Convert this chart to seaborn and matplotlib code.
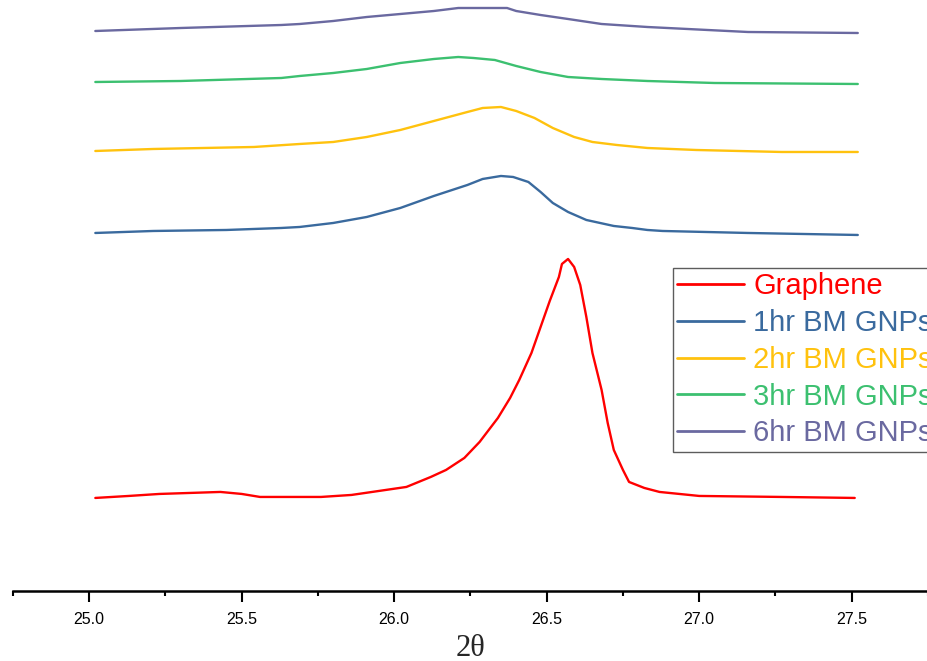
import pandas as pd
import matplotlib.pyplot as plt
import seaborn as sns
from matplotlib.ticker import MultipleLocator

# XRD (002) peak, intensities in arbitrary units
graphene_x = [25.02, 25.13, 25.23, 25.33, 25.43, 25.50, 25.56, 25.76, 25.86, 25.95,
              26.04, 26.12, 26.17, 26.23, 26.28, 26.34, 26.38, 26.41, 26.45, 26.48,
              26.51, 26.54, 26.55, 26.57, 26.59, 26.61, 26.63, 26.65, 26.68, 26.70,
              26.72, 26.75, 26.77, 26.82, 26.87, 27.00, 27.27, 27.51]
graphene_y = [93, 95, 97, 98, 99, 97, 94, 94, 96, 100,
              104, 114, 121, 133, 149, 173, 193, 211, 238, 264,
              290, 314, 327, 332, 324, 306, 274, 238, 201, 168,
              141, 121, 109, 103, 99, 95, 94, 93]

bm1_x = [25.02, 25.21, 25.45, 25.63, 25.69, 25.80, 25.91, 26.02, 26.13, 26.24,
         26.29, 26.35, 26.39, 26.44, 26.48, 26.52, 26.57, 26.63, 26.72, 26.78,
         26.83, 26.88, 27.16, 27.52]
bm1_y = [358, 360, 361, 363, 364, 368, 374, 383, 395, 406,
         412, 415, 414, 409, 399, 388, 379, 371, 365, 363,
         361, 360, 358, 356]

bm2_x = [25.02, 25.21, 25.54, 25.69, 25.80, 25.91, 26.02, 26.13, 26.24, 26.29,
         26.35, 26.40, 26.46, 26.52, 26.59, 26.65, 26.73, 26.83, 26.99, 27.27,
         27.52]
bm2_y = [440, 442, 444, 447, 449, 454, 461, 470, 479, 483,
         484, 480, 473, 463, 454, 449, 446, 443, 441, 439,
         439]

bm3_x = [25.02, 25.30, 25.63, 25.69, 25.80, 25.91, 26.02, 26.13, 26.21, 26.26,
         26.33, 26.40, 26.48, 26.57, 26.68, 26.83, 27.05, 27.52]
bm3_y = [509, 510, 513, 515, 518, 522, 528, 532, 534, 533,
         531, 525, 519, 514, 512, 510, 508, 507]

bm6_x = [25.02, 25.30, 25.63, 25.69, 25.80, 25.91, 26.02, 26.13, 26.21, 26.37,
         26.40, 26.48, 26.57, 26.68, 26.83, 27.16, 27.52]
bm6_y = [560, 563, 566, 567, 570, 574, 577, 580, 583, 583,
         580, 576, 572, 567, 564, 559, 558]

labels = ["Graphene", "1hr BM GNPs", "2hr BM GNPs", "3hr BM GNPs", "6hr BM GNPs"]
colors = ["#FF0000", "#3A6A9E", "#FFC20E", "#3CC070", "#6A69A0"]

frames = []
for name, xs, ys in zip(labels,
                        [graphene_x, bm1_x, bm2_x, bm3_x, bm6_x],
                        [graphene_y, bm1_y, bm2_y, bm3_y, bm6_y]):
    frames.append(pd.DataFrame({"two_theta": xs, "intensity": ys, "sample": name}))
xrd = pd.concat(frames, ignore_index=True)

sns.set_style("white")
plt.rcParams["font.family"] = ["Liberation Sans", "DejaVu Sans"]

fig = plt.figure(figsize=(9.27, 6.61), dpi=100)
ax = fig.add_axes([0.014, 0.106, 0.987, 0.894])

sns.lineplot(data=xrd, x="two_theta", y="intensity", hue="sample",
             palette=dict(zip(labels, colors)), estimator=None, sort=False,
             linewidth=1.7, ax=ax)

ax.set_xlim(24.75, 27.75)
ax.set_ylim(0, 591)

# only the bottom axis is shown
for side in ["left", "top", "right"]:
    ax.spines[side].set_visible(False)
ax.spines["bottom"].set_linewidth(1.8)
ax.spines["bottom"].set_color("black")
ax.set_yticks([])
ax.xaxis.set_major_locator(MultipleLocator(0.5))
ax.xaxis.set_minor_locator(MultipleLocator(0.25))
ax.tick_params(axis="x", which="major", direction="out", length=8, width=1.5,
               colors="black", labelsize=11.5, pad=7, bottom=True)
ax.tick_params(axis="x", which="minor", direction="out", length=3.5, width=1.5,
               colors="black", bottom=True)
ax.xaxis.set_major_formatter(plt.FormatStrFormatter("%.1f"))
ax.set_xlabel("2θ", fontsize=22, family=["Liberation Serif", "DejaVu Serif"], labelpad=5)
ax.set_ylabel("")

# legend runs off the right edge, as in the source figure
leg = ax.legend(labels=labels, loc="upper left", bbox_to_anchor=(0.7213, 0.5465),
                borderaxespad=0, fontsize=21, frameon=True, fancybox=False,
                handlelength=2.3, handletextpad=0.3, labelspacing=0.3,
                borderpad=0.15)
leg.get_frame().set_edgecolor("#333333")
leg.get_frame().set_linewidth(1.0)
for line, text, c in zip(leg.get_lines(), leg.get_texts(), colors):
    line.set_color(c)
    line.set_linewidth(2)
    text.set_color(c)

fig.savefig("out.png", dpi=100)
